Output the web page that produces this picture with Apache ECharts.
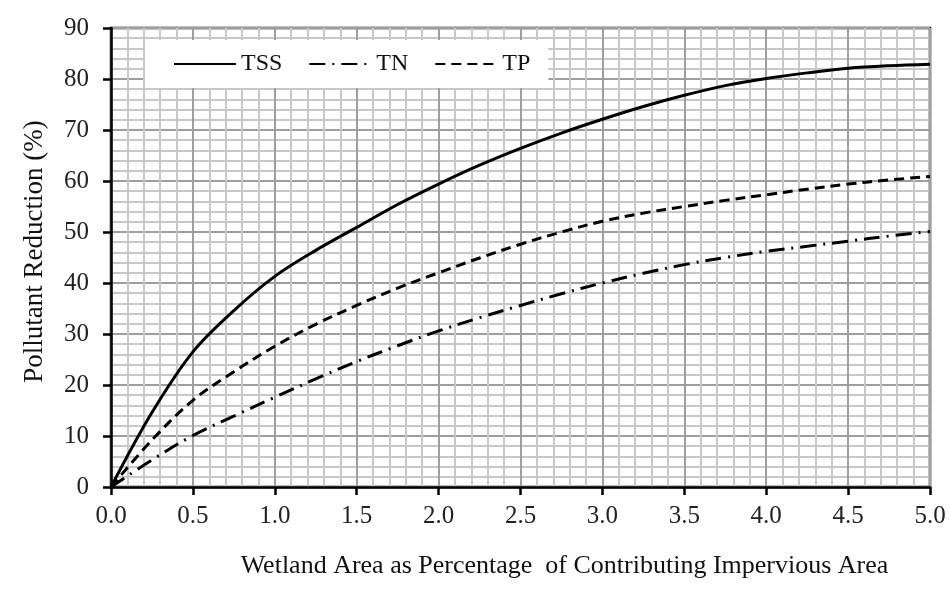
<!DOCTYPE html>
<html>
<head>
<meta charset="utf-8">
<script src="https://cdn.jsdelivr.net/npm/echarts@6/dist/echarts.min.js"></script>
<style>
html,body{margin:0;padding:0;background:#fff;}
#chart{width:949px;height:594px;}
</style>
</head>
<body>
<div id="chart"></div>
<script>
const xValues = [0, 0.25, 0.5, 0.75, 1.0, 1.25, 1.5, 1.75, 2.0, 2.25, 2.5, 2.75, 3.0, 3.25, 3.5, 3.75, 4.0, 4.25, 4.5, 4.75, 5.0];
const tss = [0, 14.6, 26.5, 34.6, 41.3, 46.4, 50.9, 55.4, 59.4, 63.1, 66.4, 69.4, 72.1, 74.6, 76.8, 78.7, 80.1, 81.2, 82.1, 82.6, 82.9];
const tn  = [0, 5.3, 10.1, 13.9, 17.6, 21.2, 24.6, 27.7, 30.6, 33.2, 35.6, 37.9, 40.0, 41.9, 43.6, 45.0, 46.2, 47.2, 48.2, 49.2, 50.1];
const tp  = [0, 9.2, 17.0, 22.6, 27.6, 31.9, 35.6, 39.0, 42.0, 44.9, 47.6, 50.0, 52.1, 53.7, 55.0, 56.2, 57.3, 58.4, 59.4, 60.2, 60.9];
const seriesNames = ['TSS', 'TN', 'TP'];
const xTitle = 'Wetland Area as Percentage  of Contributing Impervious Area';
const yTitle = 'Pollutant Reduction (%)';

const font = '"Liberation Serif", "DejaVu Serif", serif';
const pairs = arr => xValues.map((x, i) => [x, arr[i]]);

const chart = echarts.init(document.getElementById('chart'), null, {renderer: 'canvas'});
chart.setOption({
  animation: false,
  backgroundColor: '#fff',
  grid: {left: 111, right: 19, top: 28, bottom: 107, show: true, borderColor: '#000', borderWidth: 2.5, backgroundColor: 'transparent'},
  legend: {
    left: 145, top: 40,
    data: seriesNames,
    backgroundColor: '#fff',
    padding: [12, 18, 12, 28],
    itemWidth: 62, itemHeight: 14, itemGap: 26,
    itemStyle: {opacity: 0},
    textStyle: {fontFamily: font, fontSize: 24, color: '#111'}
  },
  xAxis: {
    type: 'value', min: 0, max: 5, interval: 0.5,
    name: xTitle, nameLocation: 'middle', nameGap: 66,
    nameTextStyle: {fontFamily: font, fontSize: 26, color: '#111', padding: [0, 0, 0, 88]},
    axisLine: {lineStyle: {color: '#000', width: 2.5}},
    axisTick: {show: true, inside: false, length: 8, lineStyle: {color: '#000', width: 2.5}},
    axisLabel: {fontFamily: font, fontSize: 25, color: '#222', margin: 17, formatter: v => v.toFixed(1)},
    splitLine: {show: true, lineStyle: {color: '#9e9e9e', width: 2}},
    minorTick: {show: false, splitNumber: 5},
    minorSplitLine: {show: true, lineStyle: {color: '#c8c8c8', width: 2}}
  },
  yAxis: {
    type: 'value', min: 0, max: 90, interval: 10,
    name: yTitle, nameLocation: 'middle', nameGap: 63, nameRotate: 90,
    nameTextStyle: {fontFamily: font, fontSize: 27, color: '#111', padding: [0, 0, 0, 12]},
    axisLine: {show: true, lineStyle: {color: '#000', width: 2.5}},
    axisTick: {show: true, inside: false, length: 8, lineStyle: {color: '#000', width: 2.5}},
    axisLabel: {fontFamily: font, fontSize: 25, color: '#222', margin: 22},
    splitLine: {show: true, lineStyle: {color: '#9e9e9e', width: 2}},
    minorTick: {show: false, splitNumber: 5},
    minorSplitLine: {show: true, lineStyle: {color: '#c8c8c8', width: 2}}
  },
  series: [
    {name: 'TSS', type: 'line', data: pairs(tss), smooth: 0.35, showSymbol: false, symbol: 'none',
     lineStyle: {color: '#000', width: 3, type: 'solid'}, itemStyle: {color: '#000'}},
    {name: 'TN', type: 'line', data: pairs(tn), smooth: 0.35, showSymbol: false, symbol: 'none',
     lineStyle: {color: '#000', width: 3, type: [16, 7, 2, 7]}, itemStyle: {color: '#000'}},
    {name: 'TP', type: 'line', data: pairs(tp), smooth: 0.35, showSymbol: false, symbol: 'none',
     lineStyle: {color: '#000', width: 3, type: [10, 6]}, itemStyle: {color: '#000'}}
  ]
});
</script>
</body>
</html>
